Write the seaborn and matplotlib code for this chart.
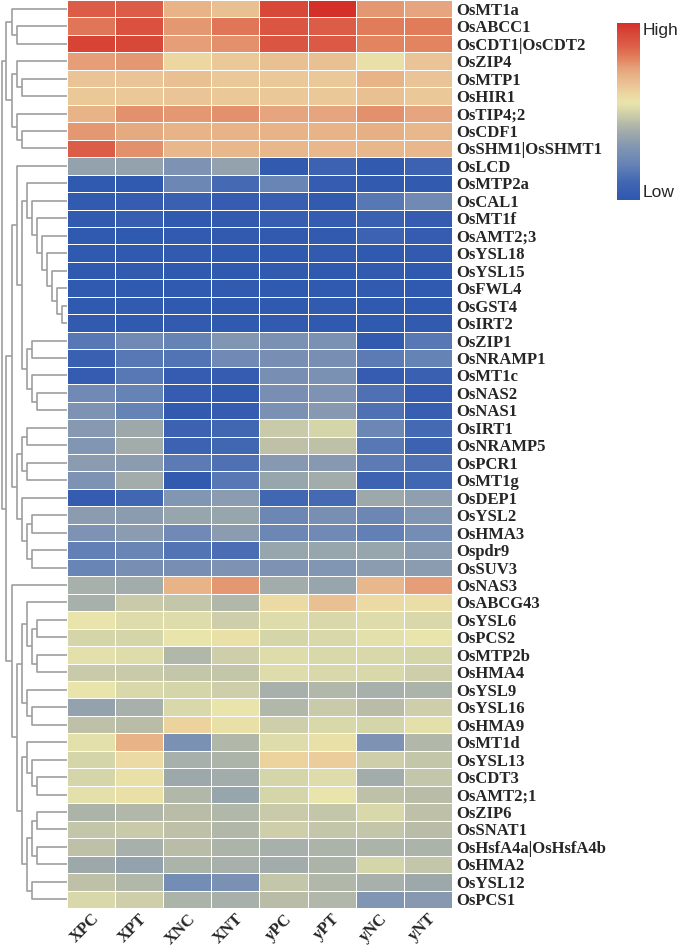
import matplotlib
matplotlib.use("Agg")
import matplotlib.pyplot as plt
import pandas as pd
import seaborn as sns
from matplotlib.colors import LinearSegmentedColormap

genes = [
    "OsMT1a", "OsABCC1", "OsCDT1|OsCDT2", "OsZIP4", "OsMTP1", "OsHIR1",
    "OsTIP4;2", "OsCDF1", "OsSHM1|OsSHMT1", "OsLCD", "OsMTP2a", "OsCAL1",
    "OsMT1f", "OsAMT2;3", "OsYSL18", "OsYSL15", "OsFWL4", "OsGST4", "OsIRT2",
    "OsZIP1", "OsNRAMP1", "OsMT1c", "OsNAS2", "OsNAS1", "OsIRT1", "OsNRAMP5",
    "OsPCR1", "OsMT1g", "OsDEP1", "OsYSL2", "OsHMA3", "Ospdr9", "OsSUV3",
    "OsNAS3", "OsABCG43", "OsYSL6", "OsPCS2", "OsMTP2b", "OsHMA4", "OsYSL9",
    "OsYSL16", "OsHMA9", "OsMT1d", "OsYSL13", "OsCDT3", "OsAMT2;1", "OsZIP6",
    "OsSNAT1", "OsHsfA4a|OsHsfA4b", "OsHMA2", "OsYSL12", "OsPCS1",
]

samples = ["XPC", "XPT", "XNC", "XNT", "yPC", "yPT", "yNC", "yNT"]

# relative expression, rows in the order shown
values_top = [
    [1.5, 1.5, 0.8, 0.65, 1.75, 2.0, 1.05, 0.95],
    [1.3, 1.65, 1.05, 1.3, 1.6, 1.5, 1.25, 1.25],
    [1.8, 1.75, 1.0, 1.1, 1.6, 1.55, 1.2, 1.2],
    [1.0, 1.05, 0.4, 0.55, 0.65, 0.65, 0.25, 0.6],
    [0.6, 0.6, 0.65, 0.55, 0.55, 0.55, 0.8, 0.6],
    [0.55, 0.55, 0.6, 0.55, 0.55, 0.55, 0.65, 0.55],
    [0.8, 1.1, 1.05, 1.1, 0.95, 0.95, 1.1, 0.95],
    [1.05, 0.9, 0.8, 0.8, 0.8, 0.8, 0.85, 0.75],
    [1.5, 1.1, 0.75, 0.75, 0.75, 0.75, 0.75, 0.75],
]

values_mid = [
    [-0.6, -0.6, -0.85, -0.6, -1.9, -1.7, -1.9, -1.7],
    [-1.95, -1.95, -1.1, -1.55, -1.15, -1.85, -1.9, -1.9],
    [-1.9, -1.85, -1.75, -1.85, -1.8, -1.9, -1.35, -1.05],
    [-1.9, -1.8, -1.95, -1.9, -1.8, -1.85, -1.75, -1.85],
    [-1.95, -1.95, -1.9, -1.9, -1.9, -1.9, -1.7, -1.85],
    [-1.95, -1.95, -1.9, -1.95, -1.95, -1.9, -1.95, -1.9],
    [-1.95, -1.9, -1.95, -1.95, -1.9, -1.95, -1.9, -1.95],
    [-1.95, -1.95, -1.95, -1.9, -1.95, -1.95, -1.9, -1.95],
    [-1.95, -1.9, -1.95, -1.95, -1.95, -1.9, -1.95, -1.95],
    [-1.9, -1.95, -1.9, -1.95, -1.9, -1.95, -1.95, -1.9],
    [-1.35, -1.05, -1.2, -0.8, -0.9, -0.9, -1.9, -1.35],
    [-1.75, -1.35, -1.4, -1.05, -0.95, -0.95, -1.3, -1.2],
    [-1.85, -1.35, -1.85, -1.85, -0.95, -0.9, -1.85, -1.75],
    [-1.05, -1.2, -1.85, -1.9, -0.95, -0.85, -1.45, -1.85],
    [-0.85, -1.2, -1.9, -1.85, -0.9, -0.75, -1.45, -1.8],
    [-0.75, -0.5, -1.7, -1.6, -0.1, 0.0, -1.1, -1.55],
    [-0.8, -0.45, -1.7, -1.6, -0.2, -0.2, -1.35, -1.7],
    [-0.7, -0.7, -1.3, -1.45, -0.75, -0.75, -1.3, -1.45],
    [-0.85, -0.45, -1.9, -1.35, -0.55, -0.45, -1.7, -1.6],
    [-1.85, -1.6, -0.8, -0.7, -1.6, -1.55, -0.5, -0.65],
    [-0.7, -0.7, -0.55, -0.55, -1.1, -0.95, -1.1, -0.8],
    [-0.85, -0.7, -1.05, -0.7, -1.1, -1.05, -1.25, -1.0],
    [-1.25, -1.15, -1.4, -1.5, -0.55, -0.55, -0.55, -0.7],
    [-1.15, -0.95, -0.95, -0.85, -0.85, -0.8, -0.7, -0.7],
]

values_low = [
    [-0.4, -0.45, 0.8, 1.05, -0.45, -0.55, 0.75, 1.0],
    [-0.4, -0.1, -0.15, -0.3, 0.35, 0.65, 0.35, 0.3],
    [0.2, 0.1, 0.1, -0.05, 0.1, 0.05, 0.1, 0.05],
    [0.0, 0.0, 0.2, 0.25, 0.0, 0.05, 0.15, 0.2],
    [0.15, 0.1, -0.3, -0.05, 0.1, 0.05, 0.05, 0.0],
    [-0.1, -0.1, -0.15, -0.15, 0.1, 0.05, 0.05, -0.05],
    [0.2, 0.05, 0.0, -0.05, -0.4, -0.3, -0.4, -0.35],
    [-0.6, -0.4, 0.05, 0.2, -0.3, -0.1, -0.25, -0.05],
    [-0.2, -0.25, 0.45, 0.25, -0.05, 0.05, 0.0, 0.15],
    [0.15, 0.8, -0.9, -0.3, 0.1, 0.25, -0.85, -0.3],
    [0.0, 0.35, -0.4, -0.35, 0.45, 0.5, -0.05, -0.15],
    [0.0, 0.25, -0.5, -0.45, 0.0, 0.1, -0.45, -0.15],
    [0.15, 0.25, -0.3, -0.55, 0.0, 0.2, -0.2, -0.25],
    [-0.35, -0.3, -0.25, -0.3, -0.1, -0.15, 0.05, -0.2],
    [-0.15, -0.1, -0.2, -0.3, -0.05, -0.15, -0.15, -0.25],
    [-0.2, -0.4, -0.25, -0.35, -0.4, -0.35, -0.35, -0.35],
    [-0.5, -0.6, -0.35, -0.4, -0.45, -0.35, 0.0, -0.15],
    [-0.2, -0.3, -1.0, -0.9, -0.15, -0.3, -0.4, -0.5],
    [0.05, -0.05, -0.35, -0.4, -0.25, -0.3, -0.8, -0.75],
]

# row dendrogram: (merge height, left, right), leaves are row numbers
tree_top = (61, (55, 0, (50, 1, 2)),
            (55, (50, 3, (45, 4, 5)), (50, 6, (45, 7, 8))))
tree_ladder = (40, 10, (35, 11, (30, 12, (25, 13, (20, 14,
               (15, 15, (10, 16, (5, 17, 18))))))))
tree_b = (40, (35, 19, 20), (35, 21, (30, 22, 23)))
tree_c = (50, (45, (40, 24, 25), (40, 26, 27)),
          (45, 28, (40, (35, 29, 30), (35, 31, 32))))
tree_mid = (55, (50, 9, (45, tree_ladder, tree_b)), tree_c)
tree_d = (45, (40, 34, (35, (30, 35, 36), (30, 37, 38))),
          (40, 39, (35, 40, 41)))
tree_e = (45, (40, 42, (35, 43, (30, 44, 45))),
          (40, (35, (30, 46, 47), (30, 48, 49)), (35, 50, 51)))
tree_low = (55, 33, (50, tree_d, tree_e))
tree_root = (65, tree_top, (61, tree_mid, tree_low))

cmap_values = [-2.0, -1.6, -1.2, -0.8, -0.5, -0.25, 0.0, 0.2, 0.4,
               0.6, 0.8, 1.0, 1.2, 1.5, 1.75, 2.0]
cmap_colors = ["#2e57b0", "#4166b2", "#6683b6", "#8296b2", "#9ca8ab",
               "#b8bca8", "#d4d4aa", "#e8e4ab", "#ecd7a0", "#eac496",
               "#e8b488", "#e5a07a", "#e2845f", "#dc5e48", "#d84a3a",
               "#d43029"]

expr_df = pd.DataFrame(values_top + values_mid + values_low,
                       index=genes, columns=samples)

cmap = LinearSegmentedColormap.from_list(
    "expr", [((v + 2) / 4, c) for v, c in zip(cmap_values, cmap_colors)])

sns.set_style("white")

fig = plt.figure(figsize=(6.85, 9.49), dpi=100)
ax_heat = fig.add_axes([0.0978, 0.0432, 0.5620, 0.9568])
ax_dendro = fig.add_axes([0.0, 0.0432, 0.0978, 0.9568])
ax_cbar = fig.add_axes([0.9007, 0.789, 0.0336, 0.1865])

sns.heatmap(
    expr_df,
    ax=ax_heat,
    cmap=cmap,
    vmin=-2,
    vmax=2,
    linewidths=0.6,
    linecolor="white",
    cbar_ax=ax_cbar,
    cbar_kws={"ticks": []},
)

serif = {"family": "Liberation Serif", "weight": "bold"}

ax_heat.yaxis.tick_right()
ax_heat.set_yticks([i + 0.5 for i in range(len(genes))])
ax_heat.set_yticklabels(genes, rotation=0, fontsize=12, **serif)
ax_heat.set_xticks([i + 0.5 for i in range(len(samples))])
ax_heat.set_xticklabels(samples, rotation=45, ha="right",
                        rotation_mode="anchor", fontsize=12, **serif)
ax_heat.tick_params(axis="y", length=0, pad=3)
ax_heat.tick_params(axis="x", length=0, pad=2)
ax_heat.set_xlabel("")
ax_heat.set_ylabel("")

cbar = ax_heat.collections[0].colorbar
cbar.outline.set_visible(False)
ax_cbar.text(1.1, 1.0, "High", transform=ax_cbar.transAxes, va="top",
             ha="left", fontsize=12.5, family="Liberation Sans")
ax_cbar.text(1.1, 0.0, "Low", transform=ax_cbar.transAxes, va="bottom",
             ha="left", fontsize=12.5, family="Liberation Sans")


def draw_node(node):
    if isinstance(node, int):
        return node + 0.5, 0
    h, left, right = node
    y1, h1 = draw_node(left)
    y2, h2 = draw_node(right)
    ax_dendro.plot([h1, h, h, h2], [y1, y1, y2, y2],
                   color="#9e9e9e", lw=1.2, solid_capstyle="butt")
    return (y1 + y2) / 2, h


draw_node(tree_root)
ax_dendro.set_ylim(len(genes), 0)
ax_dendro.set_xlim(67, 0)
ax_dendro.axis("off")

fig.savefig("out.png", dpi=100)
